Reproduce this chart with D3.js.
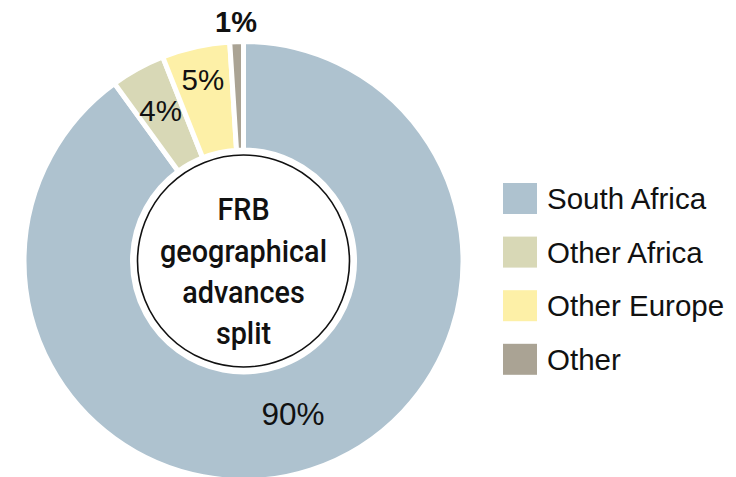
<!DOCTYPE html>
<html>
<head>
<meta charset="utf-8">
<script src="https://cdn.jsdelivr.net/npm/d3@7"></script>
<style>
  body { margin: 0; background: #fff; }
  svg { display: block; }
</style>
</head>
<body>
<div class="canvas"></div>
<script>
// data
const regions = ['South Africa', 'Other Africa', 'Other Europe', 'Other'];
const shares = [90, 4, 5, 1];
const centerLines = ['FRB', 'geographical', 'advances', 'split'];

const colors = ['#aec2cf', '#d8d8b6', '#fdf0a7', '#aaa394'];

const width = 736, height = 477;
const center = { x: 243.5, y: 261 };

// label radius / size for each slice (layout only)
const labelRadius = { 'South Africa': 160, 'Other Africa': 172, 'Other Europe': 186, 'Other': 240 };
const labelSize = { 'South Africa': 31.5, 'Other Africa': 29.5, 'Other Europe': 29.5, 'Other': 29 };

const svg = d3
  .select('.canvas')
  .append('svg')
  .attr('width', width)
  .attr('height', height);

const graph = svg
  .append('g')
  .attr('transform', `translate(${center.x},${center.y})`);

const color = d3.scaleOrdinal().domain(regions).range(colors);

const table = regions.map((name, i) => ({ name, value: shares[i] }));

const pie = d3
  .pie()
  .sort(null)
  .value((d) => d.value);

const arcPath = d3.arc().outerRadius(219.5).innerRadius(111);

// slices
graph
  .selectAll('path.arc')
  .data(pie(table))
  .enter()
  .append('path')
  .attr('class', 'arc')
  .attr('d', arcPath)
  .attr('fill', (d) => color(d.data.name))
  .attr('stroke', '#fff')
  .attr('stroke-width', 5);

// percentage labels
graph
  .selectAll('text.pct')
  .data(pie(table))
  .enter()
  .append('text')
  .attr('class', 'pct')
  .attr('transform', (d) => {
    const r = labelRadius[d.data.name];
    const c = d3.arc().innerRadius(r).outerRadius(r).centroid(d);
    return `translate(${c[0]},${c[1]})`;
  })
  .attr('text-anchor', 'middle')
  .attr('dy', '0.36em')
  .attr('font-family', 'Liberation Sans, Arial, sans-serif')
  .attr('font-size', (d) => labelSize[d.data.name])
  .attr('font-weight', (d) => (d.data.name === 'Other' ? 'bold' : 'normal'))
  .attr('fill', '#111')
  .text((d) => `${d.data.value}%`);

// center circle
graph
  .append('circle')
  .attr('r', 106)
  .attr('fill', '#fff')
  .attr('stroke', '#111')
  .attr('stroke-width', 1.6);

// condensed look: Roboto medium squeezed horizontally
const titleGroup = graph.append('g');

const titles = titleGroup
  .selectAll('text.title')
  .data(centerLines)
  .enter()
  .append('text')
  .attr('class', 'title')
  .attr('x', 0)
  .attr('y', (d, i) => (i - 1) * 41.3 + 0.5)
  .attr('text-anchor', 'middle')
  .attr('font-family', 'Roboto, sans-serif')
  .attr('font-weight', 500)
  .attr('font-size', 31)
  .attr('fill', '#111')
  .text((d) => d);

const widest = d3.max(titles.nodes(), (n) => n.getComputedTextLength());
titleGroup.attr('transform', `scale(${167 / widest}, 1)`);

// legend
const legendGroup = svg.append('g').attr('transform', 'translate(503, 183)');

const legendItem = legendGroup
  .selectAll('g')
  .data(regions)
  .enter()
  .append('g')
  .attr('transform', (d, i) => `translate(0, ${i * 53.6})`);

legendItem
  .append('rect')
  .attr('width', 34)
  .attr('height', 31)
  .attr('fill', (d) => color(d));

legendItem
  .append('text')
  .attr('x', 44)
  .attr('y', 15.5)
  .attr('dy', '0.36em')
  .attr('font-family', 'Liberation Sans, Arial, sans-serif')
  .attr('font-size', 29.5)
  .attr('fill', '#111')
  .text((d) => d);
</script>
</body>
</html>
